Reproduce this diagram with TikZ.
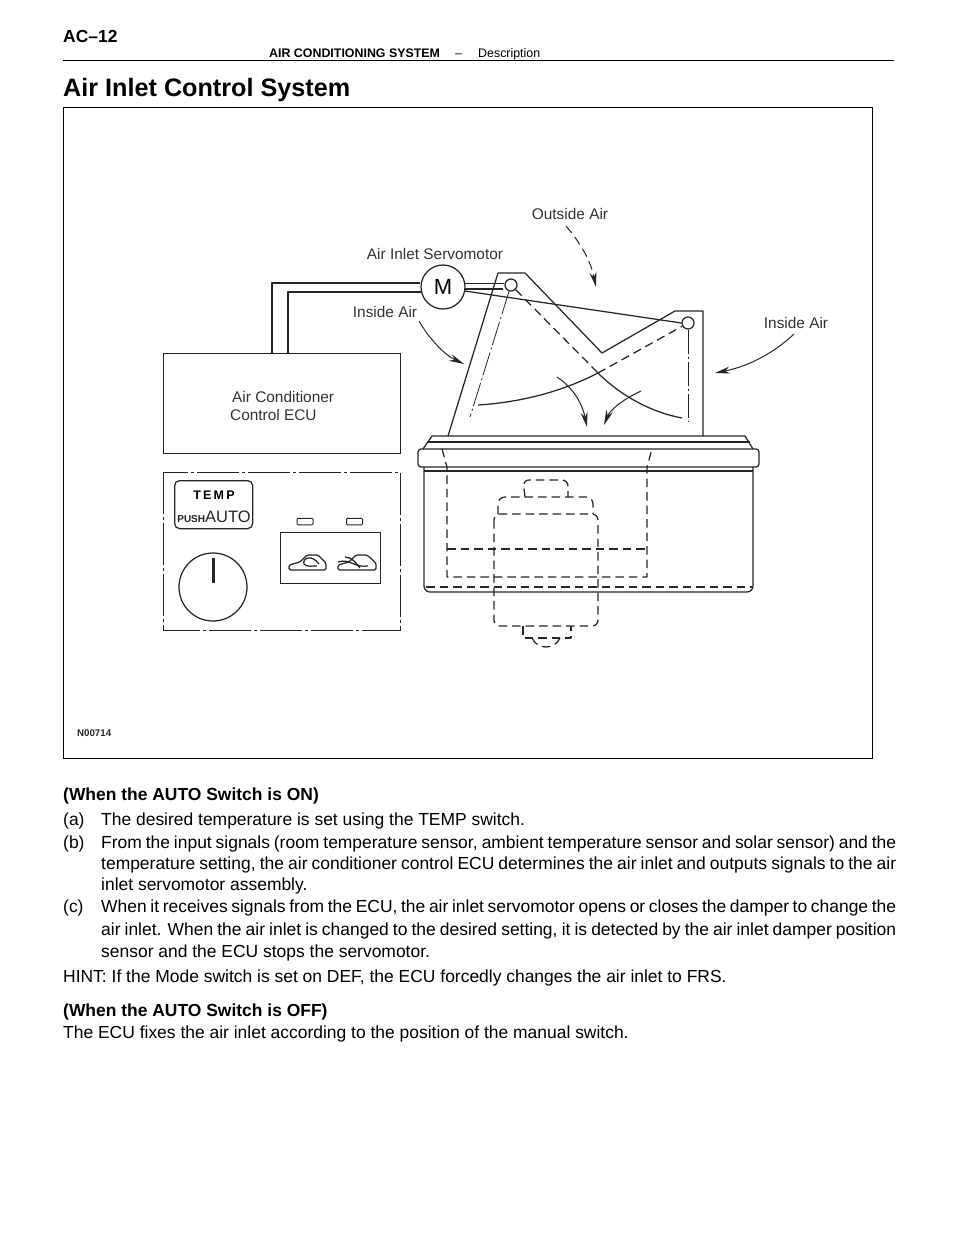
\documentclass[tikz,border=0pt]{standalone}
\usepackage{fontspec}
\setmainfont{Liberation Sans}
\usepackage{xcolor}
\usetikzlibrary{arrows.meta,calc}
\definecolor{cInk}{HTML}{262626}
\definecolor{cLabel}{HTML}{333333}
\newcommand{\jline}[1]{\makebox[795pt][s]{#1}}
\tikzset{
  ink/.style    ={draw=cInk, line width=1.25pt, line join=round},
  hidden/.style ={ink, dash pattern=on 8.5pt off 5pt},
  chain/.style  ={draw=cInk, line width=0.8pt, dash pattern=on 24pt off 3pt on 2pt off 3pt},
  panel/.style  ={draw=cInk, line width=0.9pt, dash pattern=on 42pt off 3pt on 3pt off 3pt},
  fl/.style     ={-{Stealth[length=15pt,width=7pt]}, draw=cInk, line width=1pt},
  lbl/.style    ={font=\fontsize{15.4}{18}\selectfont, text=cLabel, inner sep=0pt},
  pivot/.style  ={circle, ink, fill=white, minimum size=12pt, inner sep=0pt},
  body/.style   ={anchor=base west, inner sep=0pt, font=\fontsize{17.45}{21}\selectfont},
  bbody/.style  ={body, font=\fontsize{17.45}{21}\selectfont\bfseries},
  head/.style   ={anchor=base west, inner sep=0pt, font=\fontsize{12.4}{15}\selectfont},
}
\begin{document}
\begin{tikzpicture}[x=1pt,y=-1pt]
  \useasboundingbox (0,0) rectangle (960,1242);
  % page head
  \node[bbody] (page) at (63,42) {AC--12};
  \node[head,font=\fontsize{12.4}{15}\selectfont\bfseries] (sys) at (269,57) {AIR CONDITIONING SYSTEM};
  \node[head] (dash) at (455,57) {--};
  \node[head] (sec) at (478,57) {Description};
  \coordinate (ruleL) at (63,60.5); \coordinate (ruleR) at (894,60.5);
  \draw[line width=1.6pt] (ruleL)--(ruleR);
  \node[anchor=base west,inner sep=0pt,font=\fontsize{25.2}{30}\selectfont\bfseries] (title) at (63,96) {Air Inlet Control System};
  \node[draw=black,line width=1.4pt,anchor=north west,minimum width=809pt,minimum height=651pt,inner sep=0pt] (frame) at (63,107) {};
  % motor and wires
  \node[circle,ink,minimum size=44pt,inner sep=0pt,font=\fontsize{22}{24}\selectfont] (M) at (443,287) {M};
  \node[pivot] (p1) at (511,285) {};
  \node[pivot] (p2) at (688,323) {};
  \node[draw=cInk,line width=1.25pt,anchor=north west,minimum width=237pt,minimum height=100pt,inner sep=0pt] (ecu) at (163,353) {};
  \node[lbl,anchor=base west,align=left] (ecuA) at (232,402) {Air Conditioner};
  \node[lbl,anchor=base west] (ecuB) at (230,420) {Control ECU};
  \draw[ink] (272,353)--(272,283)--(M.west |- 0,283);
  \draw[ink] (288,353)--(288,292)--(421.5,292);
  \draw[ink] (464.5,283.5)--(p1.west |- 0,283.5);
  \draw[ink] (465,289)--(503,289);
  \draw[ink] (465,291)--(p2.west);
  % air duct
  \draw[ink] (448,436)--(498,273)--(525,273)--(602,353)--(675,311)--(703,311)--(703,436);
  % damper, two positions
  \coordinate (cross) at (598,373);
  \draw[ink] (478,405) .. controls (525,402) and (565,390) .. (cross);
  \draw[hidden] (cross)--(p2);
  \draw[hidden] (p1)--(cross);
  \draw[ink] (cross) .. controls (620,395) and (650,412) .. (682,418);
  \draw[chain] (p1)--(470,417);
  \draw[chain] (p2)--(688,422);
  % air flow
  \draw[fl] (557,377) .. controls (572,387) and (582,402) .. (587,427);
  \draw[fl] (641,391) .. controls (622,400) and (610,410) .. (604,425);
  \draw[fl,dash pattern=on 9pt off 5pt] (566,226) .. controls (578,240) and (590,258) .. (596,287);
  \draw[fl] (419,321) .. controls (430,340) and (445,355) .. (464,364);
  \draw[fl] (794,334) .. controls (775,352) and (750,366) .. (715,373);
  \node[lbl] (outA) at (570,214) {Outside Air};
  \node[lbl] (servo) at (435,254) {Air Inlet Servomotor};
  \node[lbl] (inA) at (385,312) {Inside Air};
  \node[lbl] (inB) at (796,323) {Inside Air};
  % blower case
  \draw[ink] (423,449)--(432,436)--(745,436)--(753,449);
  \draw[ink] (428,442)--(750,442);
  \draw[ink,rounded corners=3pt] (418,449) rectangle (759,467);
  \draw[ink] (424,471)--(753,471);
  \draw[ink,rounded corners=6pt] (424,467)--(424,592)--(753,592)--(753,467);
  \draw[hidden] (426,587)--(752,587);
  \draw[hidden] (442,449)--(447,467)--(447,577)--(647,577)--(647,467)--(652,449);
  \draw[hidden] (447,549)--(647,549);
  \draw[hidden,rounded corners=6pt] (494,514) rectangle (598,626);
  \draw[hidden,rounded corners=7pt] (498,514)--(498,497)--(593,497)--(593,514);
  \draw[hidden,rounded corners=6pt] (525,497)--(523,480)--(568,480)--(568,497);
  \draw[hidden] (523,626)--(523,638)--(571,638)--(571,626);
  \draw[hidden] (532,638) .. controls (537,650) and (555,650) .. (560,638);
  % control panel
  \draw[panel] (163,472) rectangle (400,630);
  \node[draw=cInk,line width=1.25pt,rounded corners=5pt,anchor=north west,minimum width=78pt,minimum height=48pt,inner sep=0pt] (tempbox) at (174,480) {};
  \node[inner sep=0pt,font=\fontsize{12.5}{14}\selectfont\bfseries\addfontfeature{LetterSpace=18}] (temp) at (214,495) {TEMP};
  \node[inner sep=0pt,font=\fontsize{16.5}{18}\selectfont,text=cInk] (auto) at (214,517) {{\fontsize{10}{11}\selectfont\bfseries PUSH}AUTO};
  \node[circle,ink,minimum size=68pt,inner sep=0pt] (dial) at (213,587) {};
  \coordinate (needle) at (213,558);
  \draw[line width=3pt,draw=cInk] (needle)--(213,583);
  \node[draw=cInk,line width=1pt,rounded corners=1pt,minimum width=16pt,minimum height=6.5pt,inner sep=0pt] (ledA) at (305,521.5) {};
  \node[draw=cInk,line width=1pt,rounded corners=1pt,minimum width=16pt,minimum height=6.5pt,inner sep=0pt] (ledB) at (354.5,521.5) {};
  \node[draw=cInk,line width=1.25pt,anchor=north west,minimum width=100pt,minimum height=51pt,inner sep=0pt] (mode) at (280,532) {};
  \draw[ink,rounded corners=1.5pt] (289,570)--(289,565)--(300,562)--(307,555)--(318,555)--(326,563)--(326,570)--cycle;
  \draw[ink] (319,564) .. controls (312,554) and (302,558) .. (304,564) .. controls (306,567) and (312,566) .. (317,566);
  \draw[ink,rounded corners=1.5pt] (338,570)--(338,565)--(349,562)--(356,555)--(367,555)--(376,563)--(376,570)--cycle;
  \draw[ink] (338,562) .. controls (350,558) and (354,568) .. (368,566);
  \draw[ink] (345,557) .. controls (352,557) and (356,563) .. (360,568);
  \node[anchor=base west,inner sep=0pt,font=\fontsize{9.7}{11}\selectfont\bfseries,text=cInk] (code) at (77,736.5) {N00714};
  % text below the figure
  \node[bbody] (h1) at (63,800) {(When the AUTO Switch is ON)};
  \node[body] (ma) at (63,825) {(a)};
  \node[body] (ta) at (101,825) {The desired temperature is set using the TEMP switch.};
  \node[body] (mb) at (63,848) {(b)};
  \node[body] (tb1) at (101,848) {\jline{From the input signals (room temperature sensor, ambient temperature sensor and solar sensor) and the}};
  \node[body] (tb2) at (101,869) {\jline{temperature setting, the air conditioner control ECU determines the air inlet and outputs signals to the air}};
  \node[body] (tb3) at (101,890) {inlet servomotor assembly.};
  \node[body] (mc) at (63,912) {(c)};
  \node[body] (tc1) at (101,912) {\jline{When it receives signals from the ECU, the air inlet servomotor opens or closes the damper to change the}};
  \node[body] (tc2) at (101,935) {\jline{air inlet. When the air inlet is changed to the desired setting, it is detected by the air inlet damper position}};
  \node[body] (tc3) at (101,957) {sensor and the ECU stops the servomotor.};
  \node[body] (hint) at (63,982) {HINT: If the Mode switch is set on DEF, the ECU forcedly changes the air inlet to FRS.};
  \node[bbody] (h2) at (63,1016) {(When the AUTO Switch is OFF)};
  \node[body] (last) at (63,1038) {The ECU fixes the air inlet according to the position of the manual switch.};
\end{tikzpicture}
\end{document}
